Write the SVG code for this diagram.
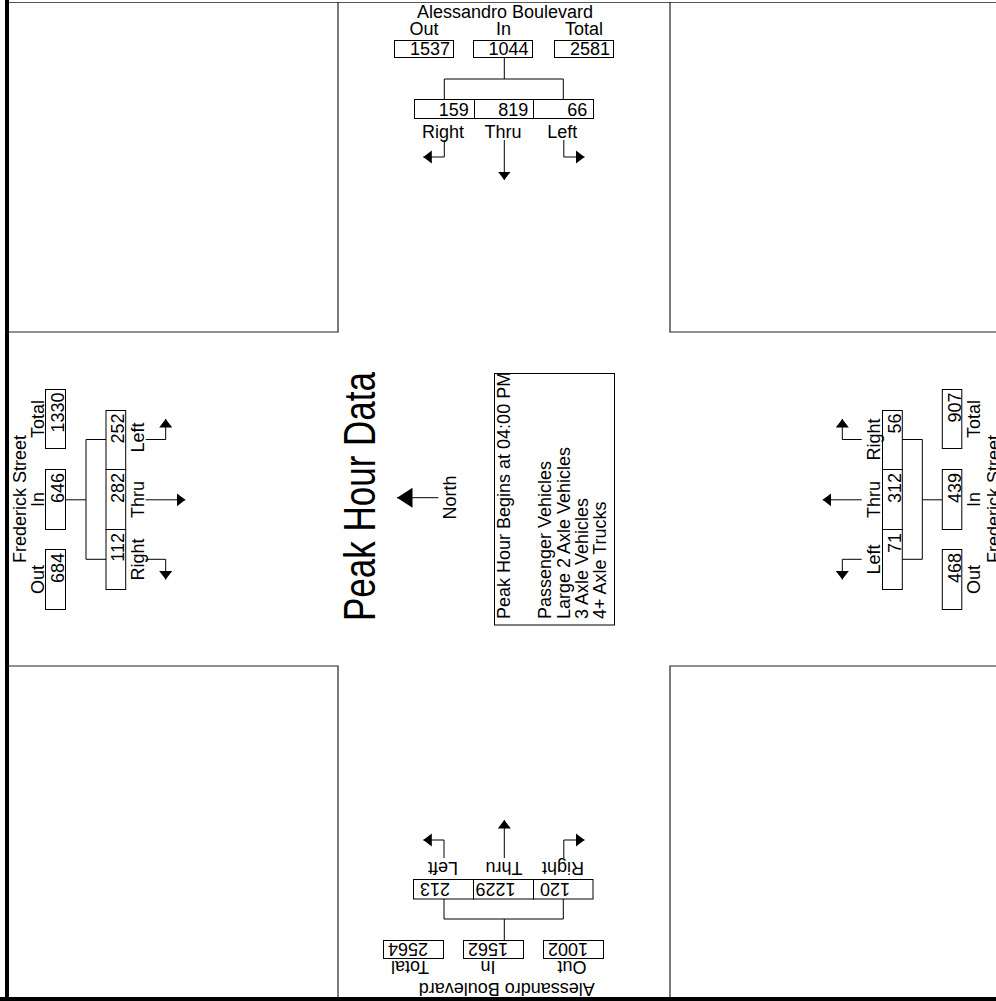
<svg xmlns="http://www.w3.org/2000/svg" width="996" height="1001" viewBox="0 0 996 1001">
<style>
.t{font-family:"Liberation Sans",Arial,Helvetica,sans-serif;font-size:18px;fill:#000}
.m{text-anchor:middle}
.e{text-anchor:end}
.box{fill:#fff;stroke:#000;stroke-width:1}
.ln{fill:none;stroke:#000;stroke-width:1}
.arr{fill:none;stroke:#000;stroke-width:1;marker-end:url(#ah)}
.blk{fill:none;stroke:#222;stroke-width:1.2}
</style>
<defs>
<marker id="ah" markerUnits="userSpaceOnUse" markerWidth="9" markerHeight="14" viewBox="0 0 9 14" refX="8.5" refY="7" orient="auto"><path d="M0,0.5 L8.5,7 L0,13.5 Z" fill="#000"/></marker>
<marker id="ahN" markerUnits="userSpaceOnUse" markerWidth="16" markerHeight="21" viewBox="0 0 16 21" refX="15.5" refY="10.5" orient="auto"><path d="M0,0.5 L15.5,10.5 L0,20.5 Z" fill="#000"/></marker>
</defs>
<rect x="0" y="0" width="996" height="1001" fill="#fff"/>

<g id="frame">
<line x1="7" y1="2.5" x2="996" y2="2.5" stroke="#555" stroke-width="1"/>
<line x1="7" y1="0" x2="7" y2="1001" stroke="#000" stroke-width="4"/>
<line x1="0" y1="999" x2="996" y2="999" stroke="#000" stroke-width="4"/>
</g>

<g id="corner-blocks">
<path class="blk" d="M338,2 V332 H7"/>
<path class="blk" d="M670,2 V332 H996"/>
<path class="blk" d="M338,997 V666 H7"/>
<path class="blk" d="M670,997 V666 H996"/>
</g>

<g id="connectors">
<path class="ln" d="M504.3,57.5 V79 M444.3,99 V79 H563.3 V99"/>
<path class="ln" d="M504.3,940.5 V919 M444,899 V919 H563.3 V899"/>
<path class="ln" d="M65.7,499.8 H86 M106,439.5 H86 V559.3 H106"/>
<path class="ln" d="M942.3,499.8 H922.3 M902.3,439.5 H922.3 V559.3 H902.3"/>
<path class="arr" d="M444.3,140 V157 H423.3"/>
<path class="arr" d="M504.3,140 V180"/>
<path class="arr" d="M563.8,140 V157 H584.5"/>
<path class="arr" d="M444,858 V840 H423.3"/>
<path class="arr" d="M504.3,858 V820"/>
<path class="arr" d="M563.8,858 V840 H584.5"/>
<path class="arr" d="M145.7,439.5 H165.7 V419"/>
<path class="arr" d="M145.7,499.8 H185.3"/>
<path class="arr" d="M145.7,559.3 H165.7 V579.5"/>
<path class="arr" d="M861.7,439.5 H842.3 V419"/>
<path class="arr" d="M861.7,499.8 H822.7"/>
<path class="arr" d="M861.7,559.3 H842.3 V579.5"/>
</g>

<g id="north-approach">
<text class="t m" x="505" y="18">Alessandro Boulevard</text>
<text class="t m" x="424" y="35">Out</text>
<text class="t m" x="503.5" y="35">In</text>
<text class="t m" x="584" y="35">Total</text>
<rect class="box" x="394.5" y="40.5" width="59" height="17"/>
<rect class="box" x="473.5" y="40.5" width="59" height="17"/>
<rect class="box" x="554.5" y="40.5" width="59" height="17"/>
<text class="t e" x="450" y="55">1537</text>
<text class="t e" x="528.5" y="55">1044</text>
<text class="t e" x="610" y="55">2581</text>
<rect class="box" x="414.5" y="99.5" width="60" height="19"/>
<rect class="box" x="474.5" y="99.5" width="59" height="19"/>
<rect class="box" x="533.5" y="99.5" width="60" height="19"/>
<text class="t e" x="468.7" y="115.7">159</text>
<text class="t e" x="528.2" y="115.7">819</text>
<text class="t e" x="587.2" y="115.7">66</text>
<text class="t m" x="443" y="137.8">Right</text>
<text class="t m" x="503" y="137.8">Thru</text>
<text class="t m" x="562.3" y="137.8">Left</text>
</g>

<g id="south-approach">
<text class="t m" transform="translate(506.7,983) rotate(180)">Alessandro Boulevard</text>
<text class="t m" transform="translate(410,961) rotate(180)">Total</text>
<text class="t m" transform="translate(488,961) rotate(180)">In</text>
<text class="t m" transform="translate(572,961) rotate(180)">Out</text>
<rect class="box" x="383.5" y="940.5" width="60" height="18"/>
<rect class="box" x="463.5" y="940.5" width="60" height="18"/>
<rect class="box" x="543.5" y="940.5" width="60" height="18"/>
<text class="t e" transform="translate(388,943) rotate(180)">2564</text>
<text class="t e" transform="translate(468,943) rotate(180)">1562</text>
<text class="t e" transform="translate(548,943) rotate(180)">1002</text>
<rect class="box" x="413.5" y="879.5" width="60" height="19.5"/>
<rect class="box" x="473.5" y="879.5" width="60" height="19.5"/>
<rect class="box" x="533.5" y="879.5" width="59.5" height="19.5"/>
<text class="t e" transform="translate(420,882.5) rotate(180)">213</text>
<text class="t e" transform="translate(475.5,882.5) rotate(180)">1229</text>
<text class="t e" transform="translate(540,882.5) rotate(180)">120</text>
<text class="t m" transform="translate(443,862) rotate(180)">Left</text>
<text class="t m" transform="translate(504,862) rotate(180)">Thru</text>
<text class="t m" transform="translate(563,862) rotate(180)">Right</text>
</g>

<g id="west-approach">
<text class="t m" transform="translate(26,499) rotate(-90)">Frederick Street</text>
<text class="t m" transform="translate(43.5,419) rotate(-90)">Total</text>
<text class="t m" transform="translate(43.5,499.5) rotate(-90)">In</text>
<text class="t m" transform="translate(43.5,579.5) rotate(-90)">Out</text>
<rect class="box" x="45.5" y="389.5" width="20" height="59"/>
<rect class="box" x="45.5" y="469.5" width="20" height="60"/>
<rect class="box" x="45.5" y="549.5" width="20" height="60"/>
<text class="t e" transform="translate(63.5,392.5) rotate(-90)">1330</text>
<text class="t e" transform="translate(63.5,473) rotate(-90)">646</text>
<text class="t e" transform="translate(63.5,553) rotate(-90)">684</text>
<rect class="box" x="106" y="410.5" width="19.7" height="59"/>
<rect class="box" x="106" y="469.5" width="19.7" height="60"/>
<rect class="box" x="106" y="529.5" width="19.7" height="60"/>
<text class="t e" transform="translate(124,413.5) rotate(-90)">252</text>
<text class="t e" transform="translate(124,473) rotate(-90)">282</text>
<text class="t e" transform="translate(124,533) rotate(-90)">112</text>
<text class="t m" transform="translate(144,437.5) rotate(-90)">Left</text>
<text class="t m" transform="translate(144,499.5) rotate(-90)">Thru</text>
<text class="t m" transform="translate(144,559.5) rotate(-90)">Right</text>
</g>

<g id="east-approach">
<text class="t m" transform="translate(1000,499) rotate(-90)">Frederick Street</text>
<text class="t m" transform="translate(979.6,419) rotate(-90)">Total</text>
<text class="t m" transform="translate(979.6,499.5) rotate(-90)">In</text>
<text class="t m" transform="translate(979.6,579.5) rotate(-90)">Out</text>
<rect class="box" x="942.3" y="389.5" width="19.5" height="59"/>
<rect class="box" x="942.3" y="469.5" width="19.5" height="60"/>
<rect class="box" x="942.3" y="549.5" width="19.5" height="60"/>
<text class="t e" transform="translate(960.5,392.5) rotate(-90)">907</text>
<text class="t e" transform="translate(960.5,473) rotate(-90)">439</text>
<text class="t e" transform="translate(960.5,553) rotate(-90)">468</text>
<rect class="box" x="882.5" y="410.5" width="19.8" height="59"/>
<rect class="box" x="882.5" y="469.5" width="19.8" height="60"/>
<rect class="box" x="882.5" y="529.5" width="19.8" height="60"/>
<text class="t e" transform="translate(901,413.5) rotate(-90)">56</text>
<text class="t e" transform="translate(901,473) rotate(-90)">312</text>
<text class="t e" transform="translate(901,533) rotate(-90)">71</text>
<text class="t m" transform="translate(879.6,439.5) rotate(-90)">Right</text>
<text class="t m" transform="translate(879.6,499.5) rotate(-90)">Thru</text>
<text class="t m" transform="translate(879.6,559.5) rotate(-90)">Left</text>
</g>

<g id="title">
<text class="t" style="font-size:44px" transform="translate(375,621) rotate(-90)" textLength="249" lengthAdjust="spacingAndGlyphs">Peak Hour Data</text>
</g>

<g id="north-arrow">
<path d="M438.3,497.7 H397" fill="none" stroke="#000" stroke-width="1" marker-end="url(#ahN)"/>
<text class="t m" transform="translate(456.2,497.5) rotate(-90)">North</text>
</g>

<g id="info-box">
<rect class="box" x="494.5" y="373.5" width="120" height="251.5"/>
<text class="t" transform="translate(509.6,619) rotate(-90)">Peak Hour Begins at 04:00 PM</text>
<text class="t" transform="translate(551,619) rotate(-90)">Passenger Vehicles</text>
<text class="t" transform="translate(569.5,619) rotate(-90)">Large 2 Axle Vehicles</text>
<text class="t" transform="translate(588,619) rotate(-90)">3 Axle Vehicles</text>
<text class="t" transform="translate(606.3,619) rotate(-90)">4+ Axle Trucks</text>
</g>
</svg>
